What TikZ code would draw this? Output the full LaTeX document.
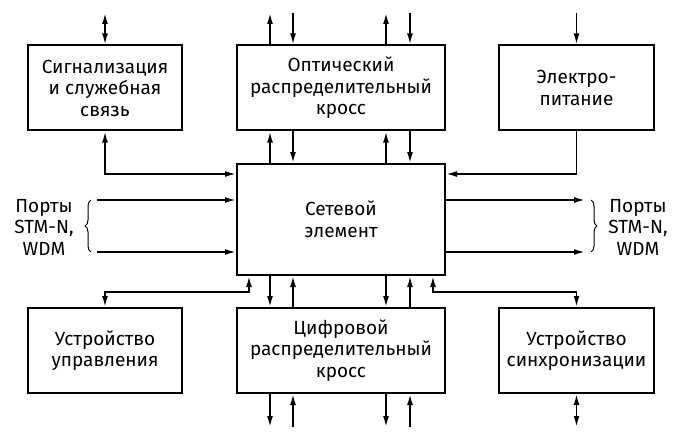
\documentclass[tikz,border=0pt]{standalone}
\usepackage{fontspec}
\setmainfont{Fira Sans}
\usepackage{tikz}
\usetikzlibrary{
    arrows.meta,
    decorations.pathreplacing
}
\tikzstyle{block} = [
    draw,
    line width=2pt,
    align=center,
    inner sep=0pt,
    minimum height=85pt
]
\tikzstyle{arrow} = [
    line width=1.8pt,
    ->,
    >={Latex[length=11pt,width=6pt]}
]
\tikzstyle{twoway} = [
    line width=1.8pt,
    <->,
    >={Latex[length=11pt,width=6pt]}
]
\tikzstyle{ports} = [
    decorate,
    decoration={brace, amplitude=6pt},
    line width=1pt
]

\begin{document}
\begin{tikzpicture}[x=1pt, y=-1pt, font=\fontsize{19}{21.5}\selectfont]
\useasboundingbox (0,0) rectangle (697,444);

% Bloecke
\node[block, minimum width=154pt] (signal)  at (105,88)    {Сигнализация\\и служебная\\связь};
\node[block, minimum width=208pt] (optical) at (341,88)    {Оптический\\распределительный\\кросс};
\node[block, minimum width=155pt] (power)   at (576.5,88)  {Электро-\\питание};
\node[block, minimum width=208pt, minimum height=111pt] (ne) at (341,219.5) {Сетевой\\элемент};
\node[block, minimum width=154pt] (control) at (105,350.5) {Устройство\\управления};
\node[block, minimum width=208pt] (digital) at (341,350.5) {Цифровой\\распределительный\\кросс};
\node[block, minimum width=155pt] (sync)    at (576.5,350.5) {Устройство\\синхронизации};

\node[align=center] (portsl) at (44,227)  {Порты\\STM-N,\\WDM};
\node[align=center] (portsr) at (638,227) {Порты\\STM-N,\\WDM};

% freie Enden
\coordinate (s1) at (105,13);
\coordinate (p1) at (576.5,13);
\coordinate (t1) at (270,13);
\coordinate (t2) at (293,13);
\coordinate (t3) at (386,13);
\coordinate (t4) at (410,13);
\coordinate (b1) at (270,427);
\coordinate (b2) at (293,427);
\coordinate (b3) at (386,427);
\coordinate (b4) at (410,427);
\coordinate (y1) at (576.5,427);
\coordinate (l1) at (97,200);
\coordinate (l2) at (97,252);
\coordinate (r1) at (585,200);
\coordinate (r2) at (585,252);
\coordinate (k1) at (249,292);
\coordinate (k2) at (433,292);

% oben
\draw[twoway] (s1) -- (signal.north);
\draw[arrow]  (optical.north -| t1) -- (t1);
\draw[arrow]  (t2) -- (optical.north -| t2);
\draw[arrow]  (optical.north -| t3) -- (t3);
\draw[arrow]  (t4) -- (optical.north -| t4);
\draw[arrow]  (p1) -- (power.north);

\draw[arrow]  (ne.north -| t1) -- (optical.south -| t1);
\draw[arrow]  (optical.south -| t2) -- (ne.north -| t2);
\draw[arrow]  (ne.north -| t3) -- (optical.south -| t3);
\draw[arrow]  (optical.south -| t4) -- (ne.north -| t4);

\draw[twoway] (signal.south) |- ([yshift=-11pt]ne.north west);
\draw[arrow]  (power.south) |- ([yshift=-11pt]ne.north east);

% Ports
\draw[arrow] (l1) -- (ne.west |- l1);
\draw[arrow] (l2) -- (ne.west |- l2);
\draw[arrow] (ne.east |- r1) -- (r1);
\draw[arrow] (ne.east |- r2) -- (r2);
\draw[ports] ([xshift=-6pt]l2) -- ([xshift=-6pt]l1);
\draw[ports] ([xshift=6pt]r1) -- ([xshift=6pt]r2);

% unten
\draw[twoway] (control.north) |- (k1) -- (ne.south -| k1);
\draw[twoway] (sync.north) |- (k2) -- (ne.south -| k2);

\draw[arrow]  (ne.south -| b1) -- (digital.north -| b1);
\draw[arrow]  (digital.north -| b2) -- (ne.south -| b2);
\draw[arrow]  (ne.south -| b3) -- (digital.north -| b3);
\draw[arrow]  (digital.north -| b4) -- (ne.south -| b4);

\draw[arrow]  (digital.south -| b1) -- (b1);
\draw[arrow]  (b2) -- (digital.south -| b2);
\draw[arrow]  (digital.south -| b3) -- (b3);
\draw[arrow]  (b4) -- (digital.south -| b4);
\draw[twoway] (sync.south) -- (y1);
\end{tikzpicture}
\end{document}
